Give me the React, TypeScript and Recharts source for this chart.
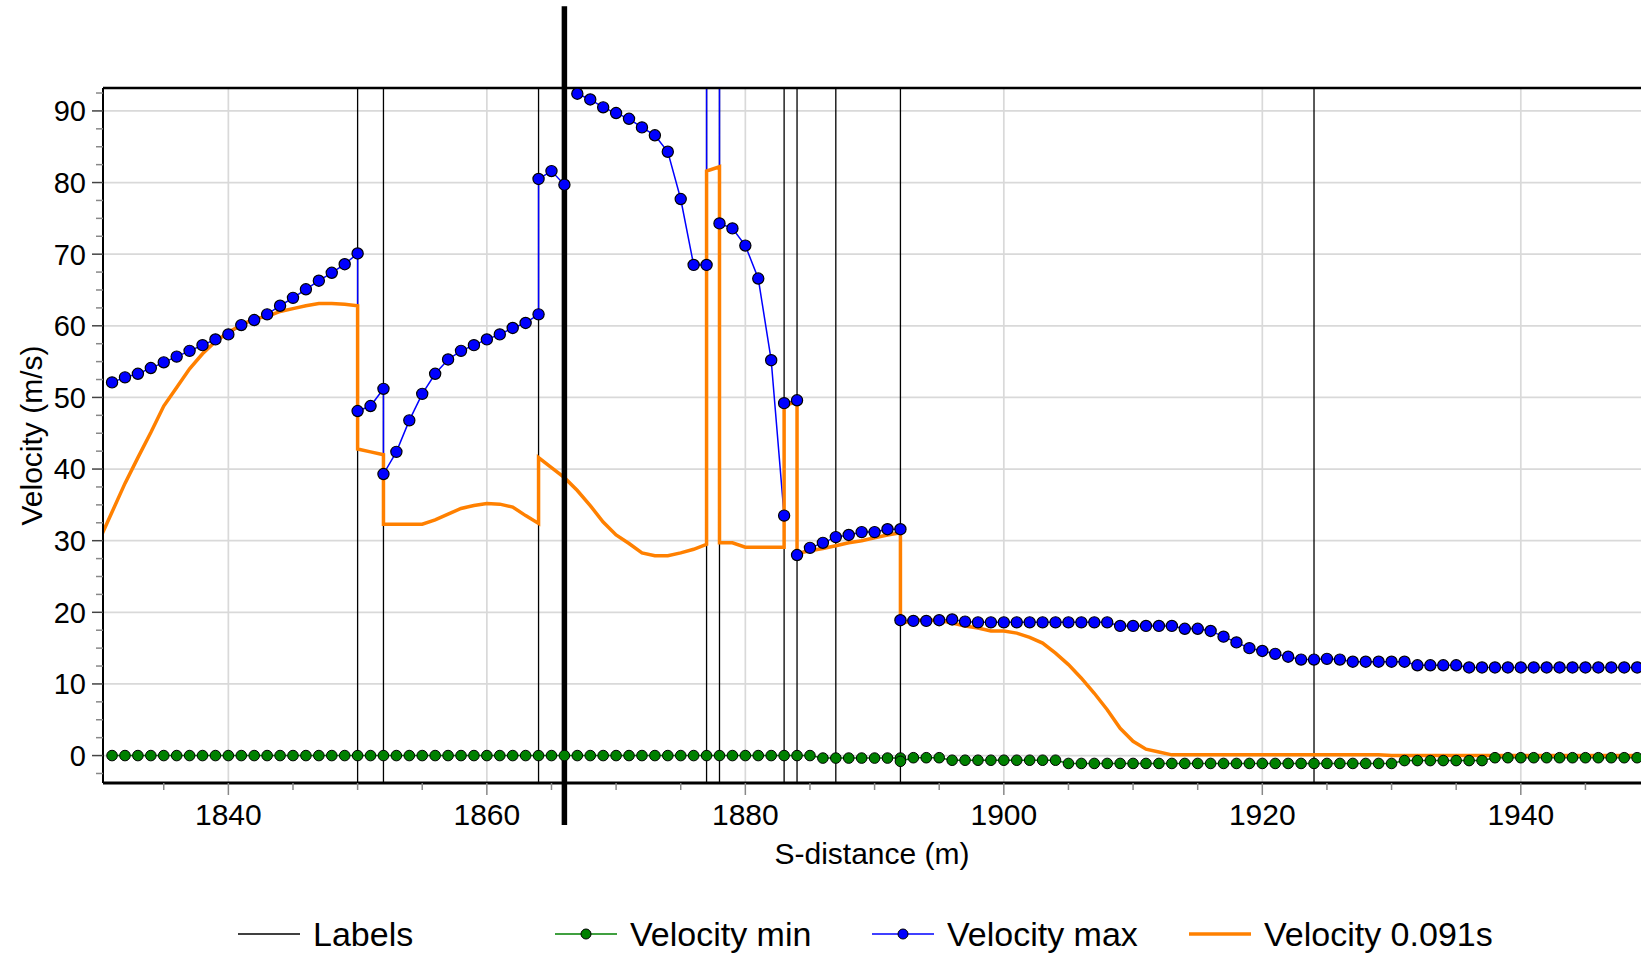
import React from 'react';
import { ComposedChart, Line, XAxis, YAxis, CartesianGrid, ReferenceLine, Legend } from 'recharts';

const FONT = '"Liberation Sans", Arial, Helvetica, sans-serif';

// axis ranges and ticks
const X_DOMAIN: [number, number] = [1830.3, 1949.3];
const Y_DOMAIN: [number, number] = [-3.83, 93.2];
const xTicks = [1835, 1840, 1845, 1850, 1855, 1860, 1865, 1870, 1875, 1880, 1885, 1890, 1895, 1900, 1905, 1910, 1915, 1920, 1925, 1930, 1935, 1940, 1945];
const xMajorTicks = [1840, 1860, 1880, 1900, 1920, 1940];
const yTicks = [-2.5, 0, 2.5, 5, 7.5, 10, 12.5, 15, 17.5, 20, 22.5, 25, 27.5, 30, 32.5, 35, 37.5, 40, 42.5, 45, 47.5, 50, 52.5, 55, 57.5, 60, 62.5, 65, 67.5, 70, 72.5, 75, 77.5, 80, 82.5, 85, 87.5, 90, 92.5];
const yMajorTicks = [0, 10, 20, 30, 40, 50, 60, 70, 80, 90];

// label positions (m) and the cursor
const labelPositions = [1850, 1852, 1864, 1877, 1878, 1883, 1884, 1887, 1892, 1924];
const cursorPosition = 1866;
const cursorSpan = [104.6, -9.7];

// [s-distance, velocity]
const velocityMin: [number, number][] = [
  [1831, 0], [1832, 0], [1833, 0], [1834, 0], [1835, 0], [1836, 0], [1837, 0], [1838, 0], [1839, 0], [1840, 0],
  [1841, 0], [1842, 0], [1843, 0], [1844, 0], [1845, 0], [1846, 0], [1847, 0], [1848, 0], [1849, 0], [1850, 0],
  [1851, 0], [1852, 0], [1853, 0], [1854, 0], [1855, 0], [1856, 0], [1857, 0], [1858, 0], [1859, 0], [1860, 0],
  [1861, 0], [1862, 0], [1863, 0], [1864, 0], [1865, 0], [1866, 0], [1867, 0], [1868, 0], [1869, 0], [1870, 0],
  [1871, 0], [1872, 0], [1873, 0], [1874, 0], [1875, 0], [1876, 0], [1877, 0], [1878, 0], [1879, 0], [1880, 0],
  [1881, 0], [1882, 0], [1883, 0], [1884, 0], [1885, 0], [1886, -0.35], [1887, -0.35], [1888, -0.35], [1889, -0.35], [1890, -0.35],
  [1891, -0.35], [1892, -0.35], [1892, -0.8], [1893, -0.3], [1894, -0.3], [1895, -0.3], [1896, -0.65], [1897, -0.65], [1898, -0.65], [1899, -0.65],
  [1900, -0.65], [1901, -0.65], [1902, -0.65], [1903, -0.65], [1904, -0.65], [1905, -1.1], [1906, -1.1], [1907, -1.1], [1908, -1.1], [1909, -1.1],
  [1910, -1.1], [1911, -1.1], [1912, -1.1], [1913, -1.1], [1914, -1.1], [1915, -1.1], [1916, -1.1], [1917, -1.1], [1918, -1.1], [1919, -1.1],
  [1920, -1.1], [1921, -1.1], [1922, -1.1], [1923, -1.1], [1924, -1.1], [1925, -1.1], [1926, -1.1], [1927, -1.1], [1928, -1.1], [1929, -1.1],
  [1930, -1.1], [1931, -0.7], [1932, -0.7], [1933, -0.7], [1934, -0.7], [1935, -0.7], [1936, -0.7], [1937, -0.7], [1938, -0.3], [1939, -0.3],
  [1940, -0.3], [1941, -0.3], [1942, -0.3], [1943, -0.3], [1944, -0.3], [1945, -0.3], [1946, -0.3], [1947, -0.3], [1948, -0.3], [1949, -0.3],
];

const velocityMax: [number, number][] = [
  [1831, 52.1], [1832, 52.8], [1833, 53.3], [1834, 54.1], [1835, 54.9], [1836, 55.7], [1837, 56.5], [1838, 57.3], [1839, 58.1], [1840, 58.8],
  [1841, 60.1], [1842, 60.8], [1843, 61.6], [1844, 62.8], [1845, 63.9], [1846, 65.1], [1847, 66.3], [1848, 67.4], [1849, 68.6], [1850, 70.1],
  [1850, 48.1], [1851, 48.8], [1852, 51.2],
  [1852, 39.3], [1853, 42.4], [1854, 46.8], [1855, 50.5], [1856, 53.3], [1857, 55.3], [1858, 56.5], [1859, 57.3], [1860, 58.1], [1861, 58.8],
  [1862, 59.7], [1863, 60.4], [1864, 61.6],
  [1864, 80.5], [1865, 81.6], [1866, 79.7], [1866, 110],
  [1867, 92.4], [1868, 91.6], [1869, 90.5], [1870, 89.7], [1871, 88.9], [1872, 87.7], [1873, 86.6], [1874, 84.3], [1875, 77.7], [1876, 68.5],
  [1877, 68.5], [1877, 110], [1878, 110],
  [1878, 74.3], [1879, 73.6], [1880, 71.2], [1881, 66.6], [1882, 55.2], [1883, 33.5],
  [1883, 49.2], [1884, 49.6],
  [1884, 28.0], [1885, 29.0], [1886, 29.7], [1887, 30.5], [1888, 30.8], [1889, 31.2], [1890, 31.2], [1891, 31.6], [1892, 31.6],
  [1892, 18.9], [1893, 18.8], [1894, 18.8], [1895, 18.9], [1896, 19.0], [1897, 18.7], [1898, 18.6], [1899, 18.6], [1900, 18.6], [1901, 18.6],
  [1902, 18.6], [1903, 18.6], [1904, 18.6], [1905, 18.6], [1906, 18.6], [1907, 18.6], [1908, 18.6], [1909, 18.1], [1910, 18.1], [1911, 18.1],
  [1912, 18.1], [1913, 18.1], [1914, 17.7], [1915, 17.7], [1916, 17.4], [1917, 16.6], [1918, 15.8], [1919, 15.0], [1920, 14.6], [1921, 14.2],
  [1922, 13.8], [1923, 13.4], [1924, 13.4], [1925, 13.5], [1926, 13.4], [1927, 13.1], [1928, 13.1], [1929, 13.1], [1930, 13.1], [1931, 13.1],
  [1932, 12.6], [1933, 12.6], [1934, 12.6], [1935, 12.6], [1936, 12.3], [1937, 12.3], [1938, 12.3], [1939, 12.3], [1940, 12.3], [1941, 12.3],
  [1942, 12.3], [1943, 12.3], [1944, 12.3], [1945, 12.3], [1946, 12.3], [1947, 12.3], [1948, 12.3], [1949, 12.3],
];

const velocity091: [number, number][] = [
  [1830, 30.0], [1831, 34.0], [1832, 38.0], [1833, 41.6], [1834, 45.1], [1835, 48.8], [1836, 51.4], [1837, 54.0], [1838, 56.1], [1839, 57.8],
  [1840, 59.1], [1841, 60.1], [1842, 61.0], [1843, 61.3], [1844, 62.0], [1845, 62.4], [1846, 62.8], [1847, 63.1], [1848, 63.1], [1849, 63.0],
  [1850, 62.8],
  [1850, 42.8], [1851, 42.4], [1852, 42.0],
  [1852, 32.3], [1853, 32.3], [1854, 32.3], [1855, 32.3], [1856, 32.9], [1857, 33.7], [1858, 34.5], [1859, 34.9], [1860, 35.2], [1861, 35.1],
  [1862, 34.7], [1863, 33.5], [1864, 32.4],
  [1864, 41.6], [1865, 40.2], [1866, 38.8], [1867, 37.0], [1868, 34.9], [1869, 32.6], [1870, 30.8], [1871, 29.6], [1872, 28.3], [1873, 27.9],
  [1874, 27.9], [1875, 28.3], [1876, 28.8], [1877, 29.5],
  [1877, 81.6], [1878, 82.2],
  [1878, 29.7], [1879, 29.7], [1880, 29.1], [1881, 29.1], [1882, 29.1], [1883, 29.1],
  [1883, 48.8], [1884, 49.5],
  [1884, 28.2], [1885, 28.6], [1886, 28.9], [1887, 29.3], [1888, 29.7], [1889, 30.0], [1890, 30.4], [1891, 30.8], [1892, 31.1],
  [1892, 18.4], [1893, 18.9], [1894, 18.9], [1895, 18.9], [1896, 18.5], [1897, 18.1], [1898, 17.8], [1899, 17.4], [1900, 17.4], [1901, 17.1],
  [1902, 16.5], [1903, 15.7], [1904, 14.3], [1905, 12.7], [1906, 10.8], [1907, 8.7], [1908, 6.4], [1909, 3.8], [1910, 2.0], [1911, 0.9],
  [1912, 0.5], [1913, 0.1], [1914, 0.1], [1915, 0.1], [1916, 0.1], [1917, 0.1], [1918, 0.1], [1919, 0.1], [1920, 0.1], [1921, 0.1],
  [1922, 0.1], [1923, 0.1], [1924, 0.1], [1925, 0.1], [1926, 0.1], [1927, 0.1], [1928, 0.1], [1929, 0.1], [1930, 0], [1931, 0],
  [1932, 0], [1933, 0], [1934, 0], [1935, 0], [1936, 0], [1937, 0], [1938, 0], [1939, 0], [1940, 0], [1941, 0],
  [1942, 0], [1943, 0], [1944, 0], [1945, 0], [1946, 0], [1947, 0], [1948, 0], [1949, 0],
];

const legendItems = [
  { name: 'Labels', color: '#000000', dot: false, width: 1.5 },
  { name: 'Velocity min', color: '#008000', dot: true, width: 1.5 },
  { name: 'Velocity max', color: '#0000ff', dot: true, width: 1.5 },
  { name: 'Velocity 0.091s', color: '#ff8000', dot: false, width: 3.5 },
];

const toPoints = (rows: [number, number][]) => rows.map(([s, v]) => ({ s, v }));

// tick with a long dark mark + label at every 10, short grey mark between
const YTick = (props: any) => {
  const { x, y, payload } = props;
  const major = yMajorTicks.includes(payload.value);
  return (
    <g>
      <line x1={x} x2={x - (major ? 11 : 7)} y1={y} y2={y} stroke={major ? '#444' : '#888'} strokeWidth={1.5} />
      {major && (
        <text x={x - 17} y={y} dy="0.36em" textAnchor="end" fontSize={29} fontFamily={FONT} fill="#000">
          {payload.value}
        </text>
      )}
    </g>
  );
};

const XTick = (props: any) => {
  const { x, y, payload } = props;
  const major = xMajorTicks.includes(payload.value);
  return (
    <g>
      <line x1={x} x2={x} y1={y} y2={y + (major ? 12 : 7)} stroke="#888" strokeWidth={1.5} />
      {major && (
        <text x={x} y={y + 42} textAnchor="middle" fontSize={30} fontFamily={FONT} fill="#000">
          {payload.value}
        </text>
      )}
    </g>
  );
};

const renderYTitle = (props: any) => {
  const { viewBox } = props;
  const cx = viewBox.x + 31;
  const cy = viewBox.y + viewBox.height / 2;
  return (
    <text x={cx} y={cy} transform={`rotate(-90, ${cx}, ${cy})`} textAnchor="middle" dominantBaseline="central" fontSize={30} fontFamily={FONT} fill="#000">
      Velocity (m/s)
    </text>
  );
};

const renderXTitle = (props: any) => {
  const { viewBox } = props;
  return (
    <text x={viewBox.x + viewBox.width / 2} y={viewBox.y + 81} textAnchor="middle" fontSize={30} fontFamily={FONT} fill="#000">
      S-distance (m)
    </text>
  );
};

const renderMaxDot = (props: any) => {
  const { cx, cy, payload, index } = props;
  if (payload.v > Y_DOMAIN[1]) return <g key={`max-${index}`} />;
  return <circle key={`max-${index}`} cx={cx} cy={cy} r={5.6} fill="#0000ff" stroke="#000" strokeWidth={1.2} />;
};

const renderLegend = () => (
  <div style={{ display: 'flex', alignItems: 'center', paddingLeft: 238, height: 40 }}>
    {legendItems.map((item) => (
      <div key={item.name} style={{ width: 317, display: 'flex', alignItems: 'center' }}>
        <svg width={62} height={14}>
          <line x1={0} x2={62} y1={7} y2={7} stroke={item.color} strokeWidth={item.width} />
          {item.dot && <circle cx={31} cy={7} r={5} fill={item.color} stroke="#000" strokeWidth={1} />}
        </svg>
        <span style={{ marginLeft: 13, fontSize: 34, fontFamily: FONT, color: '#000', lineHeight: '40px', whiteSpace: 'nowrap' }}>
          {item.name}
        </span>
      </div>
    ))}
  </div>
);

export default function App() {
  const minData = toPoints(velocityMin);
  const maxData = toPoints(velocityMax);
  const optData = toPoints(velocity091);

  return (
    <div style={{ position: 'absolute', left: 0, top: 0, width: 1641, height: 953, background: '#fff' }}>
      <ComposedChart width={1641} height={953} margin={{ top: 88, right: 0, bottom: 0, left: 0 }} style={{ fontFamily: FONT }}>
        <CartesianGrid stroke="#d9d9d9" strokeWidth={1.7} verticalValues={xMajorTicks} horizontalValues={yMajorTicks} />
        <XAxis
          type="number"
          dataKey="s"
          domain={X_DOMAIN}
          allowDataOverflow
          ticks={xTicks}
          interval={0}
          tickSize={0}
          tickMargin={0}
          tickLine={false}
          tick={<XTick />}
          axisLine={{ stroke: '#000', strokeWidth: 3 }}
          height={170}
          label={renderXTitle}
        />
        <YAxis
          type="number"
          domain={Y_DOMAIN}
          allowDataOverflow
          ticks={yTicks}
          interval={0}
          tickSize={0}
          tickMargin={0}
          tickLine={false}
          tick={<YTick />}
          axisLine={{ stroke: '#000', strokeWidth: 2 }}
          width={103}
          label={renderYTitle}
        />
        {labelPositions.map((s) => (
          <ReferenceLine key={`label-${s}`} x={s} stroke="#000" strokeWidth={1.3} />
        ))}
        <Line
          data={minData}
          dataKey="v"
          name="Velocity min"
          type="linear"
          stroke="#008000"
          strokeWidth={1.5}
          dot={{ r: 5.3, fill: '#008000', stroke: '#000', strokeWidth: 1 }}
          activeDot={false}
          isAnimationActive={false}
        />
        <Line
          data={maxData}
          dataKey="v"
          name="Velocity max"
          type="linear"
          stroke="#0000ff"
          strokeWidth={1.5}
          dot={renderMaxDot}
          activeDot={false}
          isAnimationActive={false}
        />
        <Line
          data={optData}
          dataKey="v"
          name="Velocity 0.091s"
          type="linear"
          stroke="#ff8000"
          strokeWidth={3.5}
          dot={false}
          activeDot={false}
          isAnimationActive={false}
        />
        <ReferenceLine y={Y_DOMAIN[1]} stroke="#000" strokeWidth={2.5} />
        <ReferenceLine
          segment={[{ x: cursorPosition, y: cursorSpan[0] }, { x: cursorPosition, y: cursorSpan[1] }]}
          ifOverflow="visible"
          stroke="#000"
          strokeWidth={5.5}
        />
        <Legend
          layout="horizontal"
          verticalAlign="middle"
          align="center"
          content={renderLegend}
          wrapperStyle={{ top: 914, left: 0, width: 1641, height: 40 }}
        />
      </ComposedChart>
    </div>
  );
}
